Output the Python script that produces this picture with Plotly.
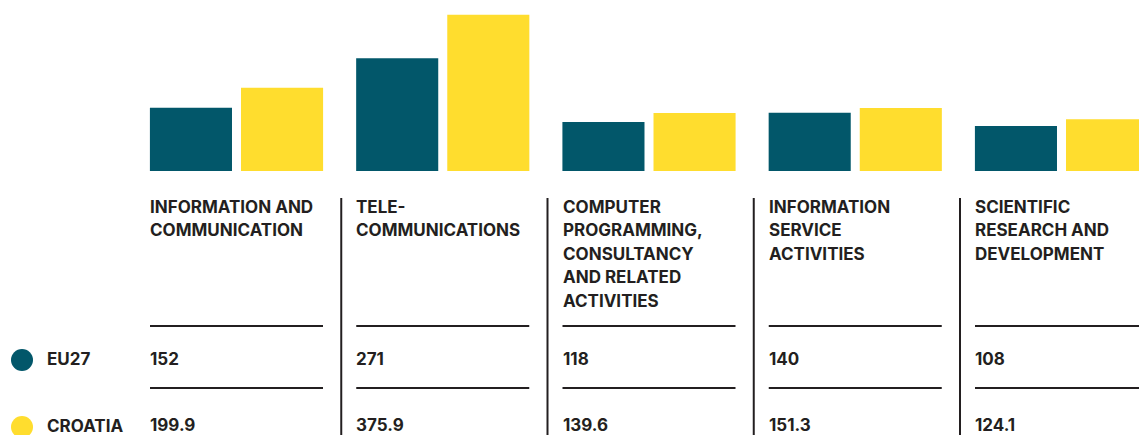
import plotly.graph_objects as go

categories = [
    ["INFORMATION AND", "COMMUNICATION"],
    ["TELE-", "COMMUNICATIONS"],
    ["COMPUTER", "PROGRAMMING,", "CONSULTANCY", "AND RELATED", "ACTIVITIES"],
    ["INFORMATION", "SERVICE", "ACTIVITIES"],
    ["SCIENTIFIC", "RESEARCH AND", "DEVELOPMENT"],
]
series_names = ["EU27", "CROATIA"]
eu27 = [152, 271, 118, 140, 108]
croatia = [199.9, 375.9, 139.6, 151.3, 124.1]
eu27_labels = ["152", "271", "118", "140", "108"]
croatia_labels = ["199.9", "375.9", "139.6", "151.3", "124.1"]

TEAL = "#02576A"
YELLOW = "#FFDD2E"
INK = "#231F20"
FONT = "Inter"

W, H = 1139, 435
PITCH = 206.25
C0 = 236.5
BASE = 171
YSCALE = 0.416
TXT_DX = -2  # compensate annotation padding

def px(x):
    return x / W

def py(y):
    return 1 - y / H

xs = list(range(len(categories)))

fig = go.Figure()
fig.add_trace(go.Bar(x=xs, y=eu27, marker=dict(color=TEAL, line=dict(width=0)), name=series_names[0], hoverinfo="skip"))
fig.add_trace(go.Bar(x=xs, y=croatia, marker=dict(color=YELLOW, line=dict(width=0)), name=series_names[1], hoverinfo="skip"))

annotations = []
shapes = []

for i, lines in enumerate(categories):
    left = C0 + PITCH * i - 86.5
    right = left + 173
    for k, line in enumerate(lines):
        annotations.append(dict(
            x=px(left + TXT_DX), y=py(206.5 + 23.6 * k), xref="paper", yref="paper",
            text="<b>" + line + "</b>", showarrow=False, xanchor="left", yanchor="middle",
            font=dict(family=FONT, size=17, color=INK),
        ))
    annotations.append(dict(
        x=px(left + TXT_DX), y=py(358.5), xref="paper", yref="paper",
        text="<b>" + eu27_labels[i] + "</b>", showarrow=False, xanchor="left", yanchor="middle",
        font=dict(family=FONT, size=17, color=INK),
    ))
    annotations.append(dict(
        x=px(left + TXT_DX), y=py(425), xref="paper", yref="paper",
        text="<b>" + croatia_labels[i] + "</b>", showarrow=False, xanchor="left", yanchor="middle",
        font=dict(family=FONT, size=17, color=INK),
    ))
    for yy in (326, 388):
        shapes.append(dict(type="line", xref="paper", yref="paper",
                           x0=px(left), x1=px(right), y0=py(yy), y1=py(yy),
                           line=dict(color=INK, width=2)))
    if i > 0:
        vx = left - 15
        shapes.append(dict(type="line", xref="paper", yref="paper",
                           x0=px(vx), x1=px(vx), y0=py(198), y1=py(H + 5),
                           line=dict(color=INK, width=2)))

for name, color, yy in ((series_names[0], TEAL, 360), (series_names[1], YELLOW, 427)):
    shapes.append(dict(type="circle", xref="paper", yref="paper",
                       x0=px(11), x1=px(33), y0=py(yy - 11), y1=py(yy + 11),
                       fillcolor=color, line=dict(width=0)))
    annotations.append(dict(
        x=px(47 + TXT_DX), y=py(yy - 1.5), xref="paper", yref="paper",
        text="<b>" + name + "</b>", showarrow=False, xanchor="left", yanchor="middle",
        font=dict(family=FONT, size=17, color=INK),
    ))

fig.update_layout(
    width=W, height=H,
    margin=dict(l=0, r=0, t=0, b=0),
    paper_bgcolor="white", plot_bgcolor="white",
    barmode="group", bargap=0.1166, bargroupgap=0.099,
    showlegend=False,
    xaxis=dict(range=[-C0 / PITCH, (W - C0) / PITCH], visible=False, fixedrange=True),
    yaxis=dict(range=[0, BASE / YSCALE], domain=[1 - BASE / H, 1], visible=False, fixedrange=True),
    annotations=annotations, shapes=shapes,
)

fig.write_html(
    "out.html",
    config=dict(displayModeBar=False),
    post_script="document.body.style.margin='0';document.body.style.overflow='hidden';",
)
